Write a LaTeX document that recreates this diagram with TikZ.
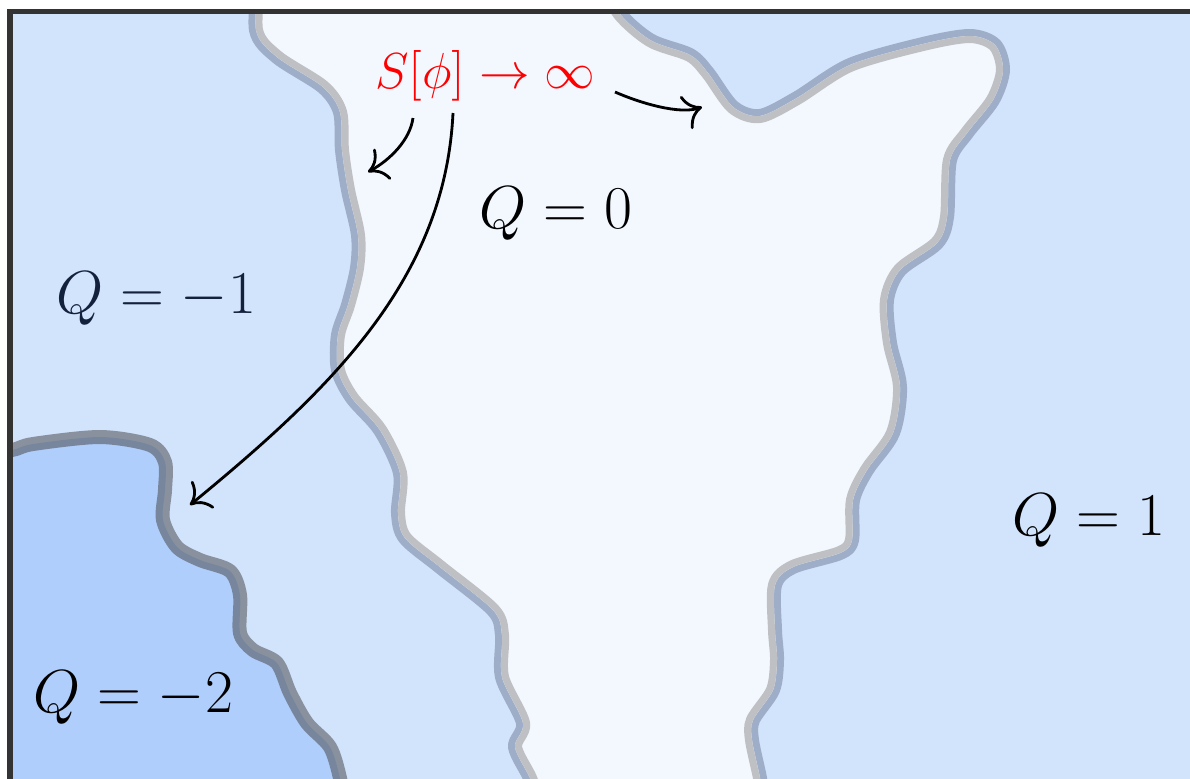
\documentclass[tikz,border=0pt]{standalone}
\usetikzlibrary{arrows.meta}
\definecolor{onefill}{HTML}{D2E3FC}
\definecolor{zerofill}{HTML}{F3F8FF}
\definecolor{twofill}{HTML}{B0CEFB}
\definecolor{walldark}{HTML}{9FAEC8}
\definecolor{walllight}{HTML}{BFC0C4}
\definecolor{navytext}{HTML}{14213D}
\begin{document}
\begin{tikzpicture}[x=0.01cm,y=0.01cm,
  wall/.style={line width=0.14cm, line join=round, line cap=round},
  flow/.style={line width=0.8pt, -{To[length=5pt,width=10pt]}},
  charge/.style={font=\LARGE, anchor=base}]
\useasboundingbox (0,0) rectangle (1190,-778);

\begin{scope}
\clip (10,-11) rectangle (1250,-850);
\fill[onefill] (0,50) rectangle (1250,-850);
\path[save path=\zeroregion] plot[smooth, tension=0.5] coordinates {(260,30) (256,-30) (277,-57) (323,-87) (340,-112)
    (342,-150) (348,-190) (358,-235) (357,-268) (348,-305) (338,-335) (338,-370) (352,-398)
    (380,-430) (400,-473) (398,-513) (405,-538) (440,-567) (493,-610) (502,-635) (502,-677)
    (523,-723) (515,-747) (530,-778) (537,-800)}
  -- (537,-850) -- (763,-850)
  -- plot[smooth, tension=0.5] coordinates {(763,-800) (760,-778) (752,-740) (753,-720) (773,-690) (777,-660)
    (775,-630) (775,-585) (793,-567) (840,-553) (852,-540) (853,-500) (867,-470) (893,-433)
    (900,-387) (890,-343) (887,-300) (900,-270) (937,-243) (947,-217) (950,-160) (967,-133)
    (993,-100) (1003,-70) (995,-45) (970,-36) (923,-44) (850,-65) (797,-98) (760,-116)
    (733,-107) (708,-73) (690,-55) (650,-40) (617,-10) (605,30)}
  -- cycle;
\draw[wall, walldark, use path=\zeroregion];
\begin{scope}
\path[clip, use path=\zeroregion];
\fill[zerofill] (0,50) rectangle (1250,-850);
\draw[wall, walllight, use path=\zeroregion];
\end{scope}
\draw[wall, draw=black!75, draw opacity=0.5, fill=twofill] plot[smooth, tension=0.5] coordinates {(-20,-452)
    (12,-450) (33,-444) (100,-437) (150,-445) (165,-462) (165,-490) (163,-520) (177,-547)
    (200,-560) (230,-571) (240,-595) (240,-633) (253,-650) (277,-663) (290,-693) (307,-723)
    (330,-747) (340,-778) (343,-800)}
  -- (-20,-800) -- cycle;
\end{scope}
\draw[line width=0.05cm, black!80] (10,-11) rectangle (1250,-850);

\node[charge, text=red, font=\fontsize{15.5}{18}\selectfont] (action) at (485,-88) {$S[\phi]\to\infty$};
\node[charge] (qzero) at (556,-228) {$Q=0$};
\node[charge, text=navytext] (qminusone) at (156,-313) {$Q=-1$};
\node[charge] (qone) at (1089,-535) {$Q=1$};
\node[charge] (qminustwo) at (133,-712) {$Q=-2$};

\coordinate (shortstart) at (413,-118);
\coordinate (shortend) at (368,-172);
\coordinate (longstart) at (453,-113);
\coordinate (longend) at (190,-505);
\coordinate (rightstart) at (615,-92);
\coordinate (rightend) at (702,-107);
\draw[flow] (shortstart) .. controls (410,-140) and (390,-160) .. (shortend);
\draw[flow] (longstart) .. controls (445,-280) and (330,-390) .. (longend);
\draw[flow] (rightstart) .. controls (640,-103) and (680,-115) .. (rightend);
\end{tikzpicture}
\end{document}
